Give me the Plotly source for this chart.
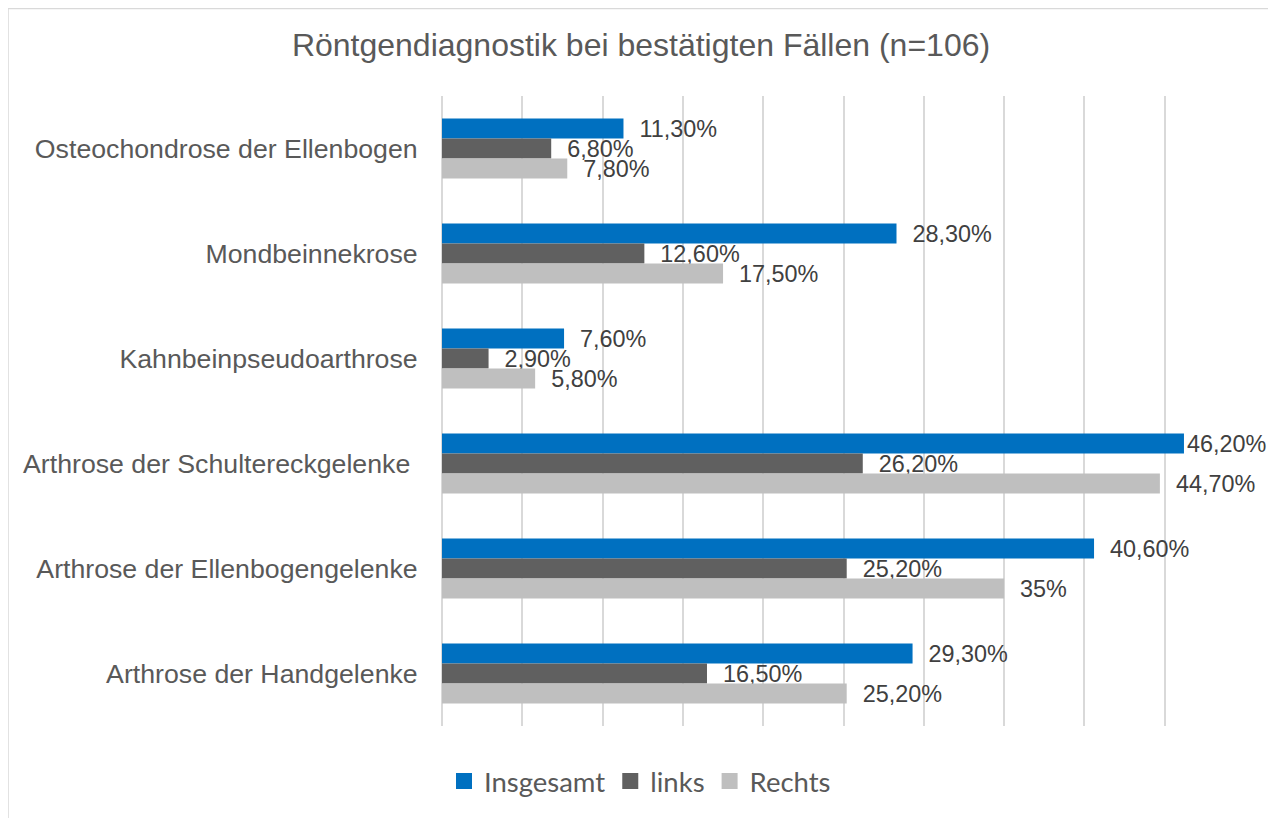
import plotly.graph_objects as go

categories = [
    "Osteochondrose der Ellenbogen",
    "Mondbeinnekrose",
    "Kahnbeinpseudoarthrose",
    "Arthrose der Schultereckgelenke\u00a0",
    "Arthrose der Ellenbogengelenke",
    "Arthrose der Handgelenke",
]
insgesamt = [11.3, 28.3, 7.6, 46.2, 40.6, 29.3]
links = [6.8, 12.6, 2.9, 26.2, 25.2, 16.5]
rechts = [7.8, 17.5, 5.8, 44.7, 35.0, 25.2]

series = [("Insgesamt", insgesamt, "#0070C0"),
          ("links", links, "#606060"),
          ("Rechts", rechts, "#BFBFBF")]

PAD = "\u00a0\u00a0"


def fmt(v):
    if float(v).is_integer():
        return f"{int(v)}%"
    return f"{v:.2f}".replace(".", ",") + "%"


fig = go.Figure()
for name, vals, col in series:
    texts = []
    for v in vals:
        pad = "" if v > 46 else PAD
        texts.append(pad + fmt(v))
    fig.add_trace(go.Bar(
        y=categories, x=vals, name=name, orientation="h",
        marker=dict(color=col, line=dict(width=0)),
        text=texts, textposition="outside", cliponaxis=False,
        constraintext="none",
        textfont=dict(family="Liberation Sans, Arial", size=23.4, color="#404040"),
        hoverinfo="x+y", showlegend=False,
    ))
    # legend entry with larger square symbol
    fig.add_trace(go.Scatter(
        x=[None], y=[None], mode="markers", name=name,
        marker=dict(symbol="square", size=16, color=col),
        showlegend=True, hoverinfo="skip",
    ))

OX, OY = 8, 8
W, H = 1276 - OX, 818 - OY
L, R, T, B = 442 - OX, 1245 - OX, 96 - OY, 726 - OY

fig.update_layout(
    width=W, height=H,
    margin=dict(l=L, r=W - R, t=T, b=H - B),
    paper_bgcolor="white", plot_bgcolor="white",
    barmode="group", bargap=45 / 105, bargroupgap=0,
    title=dict(text="Röntgendiagnostik bei bestätigten Fällen (n=106)",
               x=(641 - OX) / W, xanchor="center", y=1 - (45 - OY) / H, yanchor="middle",
               font=dict(family="Liberation Sans, Arial", size=32, color="#595959")),
    font=dict(family="Liberation Sans, Arial", color="#595959"),
    legend=dict(orientation="h", x=(640 - 442) / (R - L), xanchor="center",
                y=(B - (781 - OY)) / (B - T), yanchor="middle",
                font=dict(family="Lato", size=27.5, color="#595959"),
                itemwidth=30, tracegroupgap=0),
    showlegend=True,
)
fig.update_xaxes(range=[0, 50], dtick=5, showticklabels=False,
                 showgrid=True, gridcolor="#D9D9D9", gridwidth=2,
                 zeroline=True, zerolinecolor="#D9D9D9", zerolinewidth=2,
                 showline=False, fixedrange=True)
fig.update_yaxes(autorange="reversed", showgrid=False, showline=False,
                 ticks="outside", ticklen=18, tickcolor="rgba(0,0,0,0)",
                 tickfont=dict(family="Liberation Sans, Arial", size=26.7, color="#595959"),
                 fixedrange=True)

x0 = (8 - OX - L) / (R - L)
x1 = (1274 - OX - L) / (R - L)
y1 = (B - 0.5) / (B - T)
y0 = (B - 830) / (B - T)
fig.add_shape(type="rect", xref="paper", yref="paper", x0=x0, x1=x1, y0=y0, y1=y1,
              line=dict(color="#D9D9D9", width=1.5), fillcolor="rgba(0,0,0,0)", layer="below")

fig.write_html("out.html")
